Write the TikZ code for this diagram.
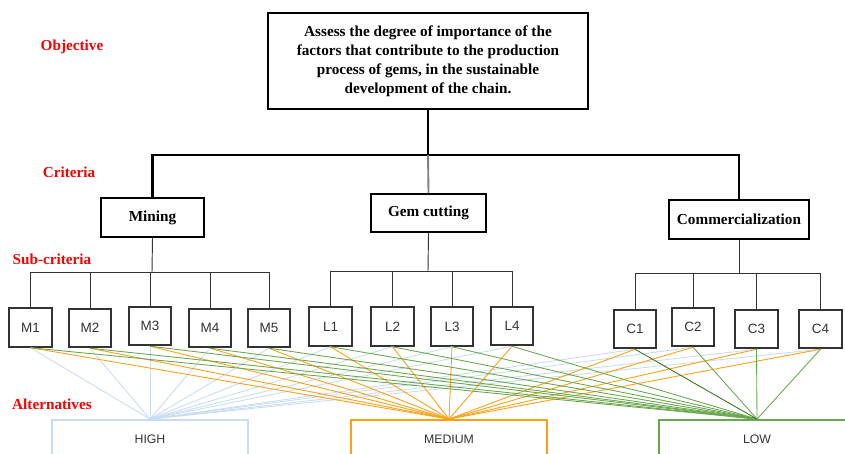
\documentclass[tikz,border=0pt]{standalone}
\usepackage{fontspec}
\setmainfont{Liberation Serif}
\setsansfont{Liberation Sans}
\usetikzlibrary{positioning,calc}
\definecolor{boxgray}{RGB}{51,51,51}
\definecolor{highblue}{RGB}{200,221,241}
\definecolor{medorange}{RGB}{255,160,20}
\definecolor{lowgreen}{RGB}{106,168,79}
\definecolor{darkgreen}{RGB}{56,118,29}

\begin{document}
\begin{tikzpicture}[
  x=0.03cm, y=-0.03cm,
  every node/.style={inner sep=0pt},
  level/.style={text=red, font=\fontsize{13}{15}\selectfont\bfseries},
  goal/.style={draw, line width=1.6pt, minimum width=9.6cm, minimum height=2.88cm, align=center, font=\fontsize{13}{16.2}\selectfont\bfseries},
  crit/.style={draw, line width=1.5pt, minimum height=1.16cm, font=\fontsize{13}{15}\selectfont\bfseries},
  sub/.style={draw=boxgray, line width=1.8pt, minimum width=1.27cm, minimum height=1.15cm, font=\sffamily\fontsize{11.5}{13}\selectfont, text=boxgray},
  alt/.style={draw=#1, line width=1.6pt, minimum width=5.9cm, minimum height=1.14cm, font=\sffamily\fontsize{10.5}{12}\selectfont, text=boxgray},
  tree/.style={line width=2.4pt},
  branch/.style={line width=0.8pt, draw=boxgray},
  vote/.style={line width=0.75pt}
]
\useasboundingbox (0,0) rectangle (845,454);
\clip (0,0) rectangle (845,454);

% level labels
\node[level] (lobj) at (72,47) {Objective};
\node[level] (lcrit) at (69,172) {Criteria};
\node[level] (lsub) at (52,259) {Sub-criteria};
\node[level] (lalt) at (52,404) {Alternatives};

% objective and criteria
\node[goal] (goal) at (428,61) {Assess the degree of importance of the\\factors that contribute to the production\\process of gems, in the sustainable\\development of the chain.};
\node[crit, minimum width=3.09cm] (mining) at (152.5,217.5) {Mining};
\node[crit, minimum width=3.45cm] (gem) at (428.5,213) {Gem cutting};
\node[crit, minimum width=4.2cm] (comm) at (739,219.5) {Commercialization};

\coordinate (bus) at (428,155);
\draw[tree] (goal.south) -- (bus);
\draw[tree] (mining.north) |- (bus) -| (comm.north);
\draw[line width=1.6pt, gray] (bus) -- (gem.north);

% sub-criteria
\foreach \n/\x/\y in {M1/30.5/327.5, M2/90/328, M3/150/326, M4/210/328, M5/269/328,
  L1/330.5/326.5, L2/392.5/326.5, L3/452/326.5, L4/512/326,
  C1/635/329, C2/693/327, C3/756.5/329, C4/820.5/329}
  \node[sub] (\n) at (\x,\y) {\n};

\coordinate (mbus) at (152,272);
\coordinate (gbus) at (428,271);
\coordinate (cbus) at (739,273);
\draw[branch] (mining.south) -- (mbus);
\draw[branch] (gem.south) -- (gbus);
\draw[branch] (comm.south) -- (cbus);
\draw[branch] (M1.north |- mbus) -- (M5.north |- mbus);
\draw[branch] (L1.north |- gbus) -- (L4.north |- gbus);
\draw[branch] (C1.north |- cbus) -- (C4.north |- cbus);
\foreach \i in {1,...,5}
  \draw[branch] (M\i.north |- mbus) -- (M\i.north);
\foreach \i in {1,...,4} {
  \draw[branch] (L\i.north |- gbus) -- (L\i.north);
  \draw[branch] (C\i.north |- cbus) -- (C\i.north);
}

% alternatives
\node[alt=highblue] (high) at (150,439) {HIGH};
\node[alt=medorange] (medium) at (449,439) {MEDIUM};
\node[alt=lowgreen] (low) at (757,439) {LOW};

\foreach \s in {M1,M2,M3,M4,M5,L1,L2,L3,L4,C1,C2,C3,C4}
  \draw[vote, highblue] (\s.south) -- (high.north);
\foreach \s in {M1,M2,M3,M4,M5,L1,L2,L3,L4,C1,C2,C3,C4}
  \draw[vote, medorange] (\s.south) -- (medium.north);
\foreach \s in {M1,M2,M3,M4,M5,L1,L2,L3,L4,C2,C3,C4}
  \draw[vote, lowgreen] (\s.south) -- (low.north);
\draw[vote, darkgreen] (C1.south) -- (low.north);
\end{tikzpicture}
\end{document}
